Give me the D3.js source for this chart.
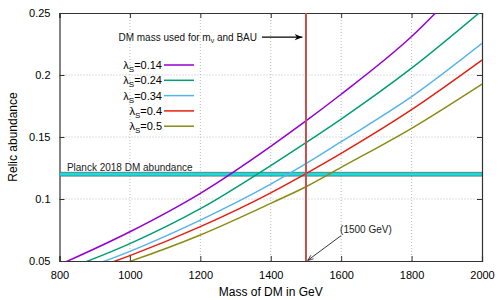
<!DOCTYPE html>
<html>
<head>
<meta charset="utf-8">
<script src="https://cdn.jsdelivr.net/npm/d3@7"></script>
<style>
  body { margin: 0; background: #fff; }
  svg { font-family: "Liberation Sans", Arial, sans-serif; }
</style>
</head>
<body>
<div id="chart"></div>
<script>
var masses = [800, 1000, 1200, 1400, 1500, 1600, 1800, 2000];

var lambdas = ["0.14", "0.24", "0.34", "0.4", "0.5"];
var colors = ["#9400d3", "#009e73", "#56b4e9", "#e51e10", "#8b8b14"];

// relic abundance per lambda_S (values under 0.05 / over 0.25 get clipped)
var relic014 = [0.047, 0.0736, 0.1046, 0.1425, 0.163, 0.1845, 0.231, 0.29];
var relic024 = [0.0412, 0.064, 0.0922, 0.127, 0.1455, 0.1645, 0.2055, 0.252];
var relic034 = [0.0368, 0.0578, 0.083, 0.112, 0.1285, 0.1462, 0.1825, 0.2255];
var relic040 = [0.0348, 0.0543, 0.0777, 0.105, 0.1205, 0.1368, 0.172, 0.212];
var relic050 = [0.0318, 0.0497, 0.071, 0.0965, 0.1099, 0.1255, 0.157, 0.1927];
var series = [relic014, relic024, relic034, relic040, relic050];

var xTicks = [800, 1000, 1200, 1400, 1600, 1800, 2000];
var yTicks = [0.05, 0.1, 0.15, 0.2, 0.25];

var planckLow = 0.1185, planckHigh = 0.1215;
var dmMass = 1500;

var width = 500, height = 300;
var margin = {top: 13, right: 18, bottom: 39, left: 59.5};

var svg = d3.select('#chart').append('svg')
  .attr('width', width)
  .attr('height', height);

var x = d3.scaleLinear().domain([800, 2000]).range([margin.left, width - margin.right]);
var y = d3.scaleLinear().domain([0.05, 0.25]).range([height - margin.bottom, margin.top]);

svg.append('clipPath').attr('id', 'clip')
  .append('rect')
  .attr('x', x(800)).attr('y', y(0.25))
  .attr('width', x(2000) - x(800)).attr('height', y(0.05) - y(0.25));

// grid
var grid = svg.append('g').style('stroke', '#aaa').style('stroke-dasharray', '1,2').style('stroke-width', 0.8);
xTicks.slice(1, -1).forEach(function(t) {
  grid.append('line').attr('x1', x(t)).attr('x2', x(t)).attr('y1', y(0.05)).attr('y2', y(0.25));
});
yTicks.slice(1, -1).forEach(function(t) {
  grid.append('line').attr('y1', y(t)).attr('y2', y(t)).attr('x1', x(800)).attr('x2', x(2000));
});

// axes (ticks inside, on all four sides)
svg.append('g').attr('transform', 'translate(0,' + y(0.05) + ')')
  .call(d3.axisBottom(x).tickValues(xTicks).tickSize(-5).tickPadding(10).tickFormat(d3.format('d')));
svg.append('g').attr('transform', 'translate(0,' + y(0.25) + ')')
  .call(d3.axisTop(x).tickValues(xTicks).tickSize(-5).tickFormat(''));
svg.append('g').attr('transform', 'translate(' + x(800) + ',0)')
  .call(d3.axisLeft(y).tickValues(yTicks).tickSize(-5).tickPadding(9).tickFormat(function(d) { return String(d); }));
svg.append('g').attr('transform', 'translate(' + x(2000) + ',0)')
  .call(d3.axisRight(y).tickValues(yTicks).tickSize(-5).tickFormat(''));

svg.selectAll('.domain').style('stroke', '#333').style('stroke-width', 1.2);
svg.selectAll('.tick line').style('stroke', '#333');
svg.selectAll('.tick text').style('font-size', '11px').style('fill', '#000')
  .style('font-family', '"Liberation Sans", Arial, sans-serif');

// Planck band
var plot = svg.append('g').attr('clip-path', 'url(#clip)');
plot.append('rect')
  .attr('x', x(800)).attr('width', x(2000) - x(800))
  .attr('y', y(planckHigh)).attr('height', y(planckLow) - y(planckHigh))
  .style('fill', '#00e5e5').style('stroke', '#777').style('stroke-width', 1);

// curves
var line = d3.line()
  .x(function(d, i) { return x(masses[i]); })
  .y(function(d) { return y(d); })
  .curve(d3.curveMonotoneX);

series.forEach(function(s, i) {
  plot.append('path')
    .attr('d', line(s))
    .style('fill', 'none')
    .style('stroke', colors[i])
    .style('stroke-width', 1.5);
});

// vertical DM mass line
plot.append('line')
  .attr('x1', x(dmMass)).attr('x2', x(dmMass))
  .attr('y1', y(0.05)).attr('y2', y(0.25))
  .style('stroke', '#c0504d').style('stroke-width', 2);

svg.append('text')
  .attr('x', x(821)).attr('y', y(0.1228))
  .style('font-size', '10px').style('fill', '#222')
  .text('Planck 2018 DM abundance');

// legend
var legend = svg.append('g');
lambdas.forEach(function(l, i) {
  var ly = 65 + i * 15.3;
  var t = legend.append('text')
    .attr('x', 162).attr('y', ly + 4)
    .attr('text-anchor', 'end')
    .style('font-size', '11px');
  t.append('tspan').text('λ');
  t.append('tspan').attr('dy', 3).style('font-size', '8px').text('S');
  t.append('tspan').attr('dy', -3).text('=' + l);
  legend.append('line')
    .attr('x1', 164).attr('x2', 194)
    .attr('y1', ly).attr('y2', ly)
    .style('stroke', colors[i]).style('stroke-width', 1.5);
});

// annotations
var defs = svg.append('defs');
defs.append('marker').attr('id', 'filled')
  .attr('viewBox', '0 0 10 10').attr('refX', 10).attr('refY', 5)
  .attr('markerWidth', 9).attr('markerHeight', 6).attr('orient', 'auto')
  .append('path').attr('d', 'M0,1 L10,5 L0,9 L3,5 Z').style('fill', '#000');
defs.append('marker').attr('id', 'open')
  .attr('viewBox', '0 0 10 10').attr('refX', 10).attr('refY', 5)
  .attr('markerWidth', 8).attr('markerHeight', 7).attr('orient', 'auto')
  .append('path').attr('d', 'M0,1 L10,5 L0,9').style('fill', 'none').style('stroke', '#000').style('stroke-width', 1.2);

var ann1 = svg.append('text')
  .attr('x', x(1361)).attr('y', y(0.2273))
  .attr('text-anchor', 'end')
  .style('font-size', '10px').style('fill', '#111');
ann1.append('tspan').text('DM mass used for m');
ann1.append('tspan').attr('dy', 2).style('font-size', '7px').text('ν');
ann1.append('tspan').attr('dy', -2).text(' and BAU');

svg.append('line')
  .attr('x1', x(1375)).attr('x2', x(1490))
  .attr('y1', y(0.2305)).attr('y2', y(0.2305))
  .style('stroke', '#000').style('stroke-width', 1.3)
  .attr('marker-end', 'url(#filled)');

svg.append('text')
  .attr('x', x(1597)).attr('y', y(0.0726))
  .style('font-size', '10px').style('fill', '#222')
  .text('(1500 GeV)');

svg.append('line')
  .attr('x1', x(1600)).attr('y1', y(0.0705))
  .attr('x2', x(1505)).attr('y2', y(0.0505))
  .style('stroke', '#000').style('stroke-width', 0.8)
  .attr('marker-end', 'url(#open)');

// axis labels
svg.append('text')
  .attr('x', (x(800) + x(2000)) / 2).attr('y', 296)
  .attr('text-anchor', 'middle')
  .style('font-size', '12px')
  .text('Mass of DM in GeV');

svg.append('text')
  .attr('transform', 'translate(17,' + ((y(0.05) + y(0.25)) / 2) + ') rotate(-90)')
  .attr('text-anchor', 'middle')
  .style('font-size', '12px')
  .text('Relic abundance');
</script>
</body>
</html>
